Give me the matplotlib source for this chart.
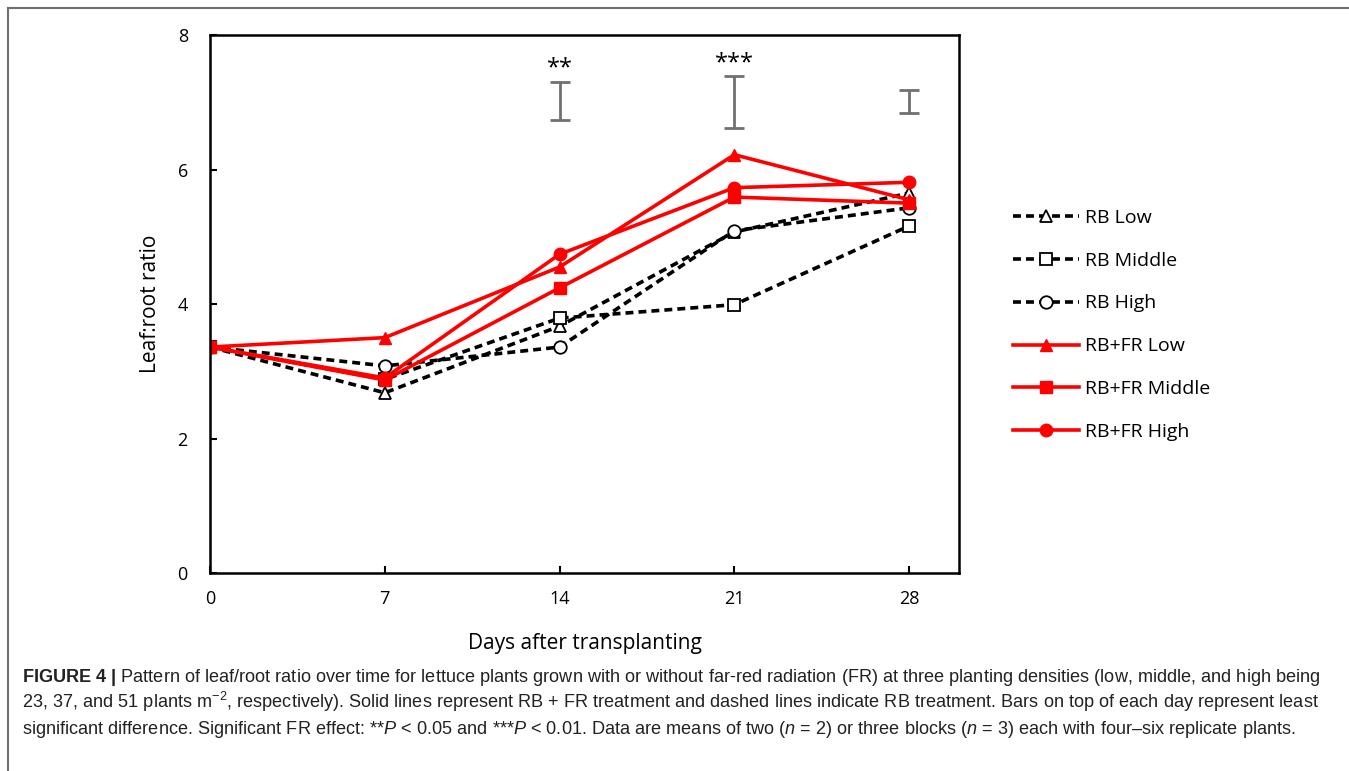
import matplotlib
matplotlib.use('Agg')
import matplotlib.pyplot as plt

plt.rcParams['font.family'] = ['Open Sans', 'DejaVu Sans']
plt.rcParams['mathtext.fontset'] = 'custom'
plt.rcParams['mathtext.rm'] = 'Liberation Sans'
plt.rcParams['mathtext.it'] = 'Liberation Sans:italic'
plt.rcParams['mathtext.bf'] = 'Liberation Sans:bold'

# data
days = [0, 7, 14, 21, 28]
rb_low = [3.36, 2.68, 3.67, 5.07, 5.65]
rb_middle = [3.36, 2.88, 3.79, 3.99, 5.16]
rb_high = [3.36, 3.08, 3.36, 5.09, 5.43]
fr_low = [3.36, 3.50, 4.55, 6.22, 5.55]
fr_middle = [3.36, 2.87, 4.24, 5.59, 5.50]
fr_high = [3.36, 2.90, 4.74, 5.73, 5.81]

lsd_days = [14, 21, 28]
lsd_center = [7.02, 7.00, 7.01]
lsd_half = [0.28, 0.385, 0.17]
stars = ['**', '***', '']

fig = plt.figure(figsize=(13.49, 7.71), dpi=100)
ax = fig.add_axes([0.1557, 0.2568, 0.7109 - 0.1557, 0.9546 - 0.2568])

dash = dict(color='black', linestyle=(0, (2.2, 1.4)), linewidth=2.6,
            markerfacecolor='white', markeredgecolor='black', markeredgewidth=1.3, markersize=9)
ax.plot(days, rb_low, marker='^', label='RB Low', **dash)
ax.plot(days, rb_middle, marker='s', label='RB Middle', **dash)
ax.plot(days, rb_high, marker='o', label='RB High', **dash)

solid = dict(color='#ff0000', linestyle='-', linewidth=2.6, markersize=9)
ax.plot(days, fr_low, marker='^', label='RB+FR Low', **solid)
ax.plot(days, fr_middle, marker='s', label='RB+FR Middle', **solid)
ax.plot(days, fr_high, marker='o', label='RB+FR High', **solid)

ax.errorbar(lsd_days, lsd_center, yerr=lsd_half, fmt='none', ecolor='#707070',
            elinewidth=2, capsize=7, capthick=2)
for d, c, h, s in zip(lsd_days, lsd_center, lsd_half, stars):
    if s:
        ax.text(d, c + h + 0.02, s, ha='center', va='bottom', fontsize=17)

ax.set_xlim(0, 30)
ax.set_ylim(0, 8)
ax.set_xticks(days)
ax.set_yticks([0, 2, 4, 6, 8])
ax.tick_params(direction='in', length=5, width=1.5, labelsize=13, pad=12)
ax.tick_params(axis='y', pad=16)
for sp in ax.spines.values():
    sp.set_linewidth(1.8)
ax.set_xlabel('Days after transplanting', fontsize=15, labelpad=18)
ax.set_ylabel('Leaf:root ratio', fontsize=15, labelpad=12)

ax.legend(loc='upper left', bbox_to_anchor=(0.738, 0.752), bbox_transform=fig.transFigure,
          frameon=False, fontsize=14, handlelength=3.4, labelspacing=1.28, handletextpad=0.3)

# border lines
fig.add_artist(plt.Line2D([0.006, 1.0], [0.99, 0.99], color='#707070', linewidth=1.5))
fig.add_artist(plt.Line2D([0.006, 0.006], [0.0, 0.99], color='#707070', linewidth=1.5))

cap = [r"$\mathbf{FIGURE\ 4\ |}$ Pattern of leaf/root ratio over time for lettuce plants grown with or without far-red radiation (FR) at three planting densities (low, middle, and high being",
       r"23, 37, and 51 plants m$^{-2}$, respectively). Solid lines represent RB + FR treatment and dashed lines indicate RB treatment. Bars on top of each day represent least",
       r"significant difference. Significant FR effect: **$P$ < 0.05 and ***$P$ < 0.01. Data are means of two ($n$ = 2) or three blocks ($n$ = 3) each with four–six replicate plants."]
for i, line in enumerate(cap):
    fig.text(0.0163, 1 - (682 + i * 26) / 771, line, fontsize=13.1, family='Liberation Sans',
             color='#222222', va='baseline')

fig.savefig('out.png', dpi=100)
